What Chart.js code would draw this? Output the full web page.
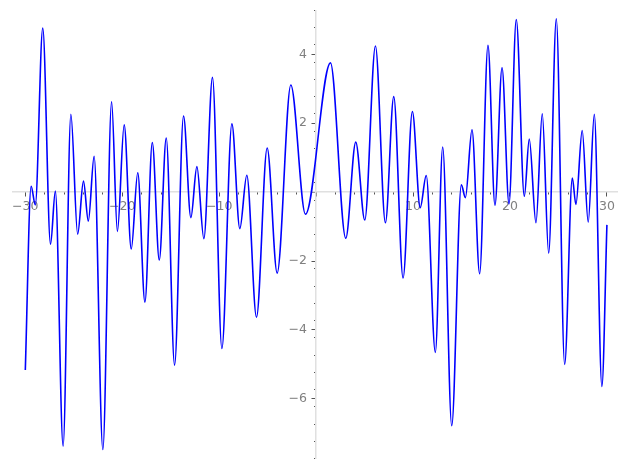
<!DOCTYPE html>
<html>

<head>
    <title>Wiggly function</title>
    <script src="https://cdn.jsdelivr.net/npm/chart.js@4.4.1/dist/chart.umd.min.js"></script>
    <style>
        body { margin: 0; background: #fff; }
    </style>
</head>

<body>
    <canvas id="myChart" width="627" height="469"></canvas>

    <script>
        // turning points (x, y)
        var xs = [-30.0, -29.4, -28.97, -28.2, -27.4, -26.9, -26.1, -25.3, -24.6, -24.0, -23.5, -22.9, -22.0, -21.1,
            -20.5, -19.8, -19.07, -18.4, -17.66, -16.9, -16.18, -15.46, -14.6, -13.68, -12.92, -12.3, -11.58, -10.69,
            -9.72, -8.69, -7.87, -7.15, -6.15, -5.05, -4.02, -2.61, -1.1, 1.48, 3.06, 4.09, 5.02, 6.12, 7.15, 8.01,
            8.97, 9.93, 10.74, 11.36, 12.3, 13.06, 13.99, 14.98, 15.4, 16.08, 16.87, 17.73, 18.45, 19.18, 19.9, 20.65,
            21.48, 21.99, 22.68, 23.33, 23.99, 24.78, 25.64, 26.43, 26.8, 27.45, 28.07, 28.7, 29.48, 30.0];
        var ys = [-5.16, 0.17, -0.37, 4.76, -1.51, 0.03, -7.37, 2.26, -1.22, 0.32, -0.84, 1.04, -7.47, 2.62,
            -1.14, 1.95, -1.65, 0.56, -3.19, 1.44, -1.97, 1.57, -5.02, 2.21, -0.74, 0.74, -1.35, 3.33,
            -4.54, 1.98, -1.06, 0.49, -3.63, 1.28, -2.35, 3.11, -0.64, 3.75, -1.34, 1.45, -0.81, 4.24, -0.89, 2.77,
            -2.49, 2.34, -0.45, 0.48, -4.65, 1.31, -6.78, 0.21, -0.16, 1.81, -2.37, 4.26, -0.38, 3.61, -0.34, 5.01,
            -0.12, 1.54, -0.89, 2.27, -1.77, 5.03, -5.0, 0.41, -0.36, 1.79, -0.87, 2.26, -5.64, -0.95];

        var xMajorStep = 10, xMinorStep = 2;
        var yMajorStep = 2, yMinorStep = 0.5;

        var points = xs.map(function (x, i) { return { x: x, y: ys[i] }; });

        var tickFont = { family: 'DejaVu Sans', size: 12.5 };
        var tickGray = '#808080';
        var markGray = '#555';
        var axisGray = '#e0e0e0';

        function fmt(v) {
            if (v === 0) return '';
            return (v < 0 ? '\u2212' : '') + Math.abs(v);
        }
        function blank() { return ''; }

        // axes drawn through the origin take no room of their own
        function noWidth(s) { s.width = 0; }
        function noHeight(s) { s.height = 0; }

        var xRange = { min: -31.27, max: 31.04 };
        var yRange = { min: -7.73, max: 5.27 };

        var ctx = document.getElementById('myChart');

        new Chart(ctx, {
            type: 'line',
            data: {
                datasets: [{
                    data: points,
                    borderColor: '#0000ff',
                    borderWidth: 1.6,
                    pointRadius: 0,
                    fill: false,
                    cubicInterpolationMode: 'monotone'
                }]
            },
            options: {
                responsive: false,
                animation: false,
                layout: { padding: { left: 13, right: 10, top: 8, bottom: 10 } },
                plugins: { legend: { display: false }, tooltip: { enabled: false } },
                scales: {
                    x: {
                        type: 'linear', min: xRange.min, max: xRange.max,
                        position: { y: 0 },
                        afterFit: noHeight,
                        border: { display: true, color: axisGray, width: 1.5 },
                        grid: { drawOnChartArea: false, tickLength: 4, tickColor: markGray, tickWidth: 1 },
                        ticks: {
                            stepSize: xMajorStep, includeBounds: false, maxRotation: 0, autoSkip: false,
                            color: tickGray, font: tickFont, padding: 3, callback: fmt
                        }
                    },
                    x2: {
                        type: 'linear', axis: 'x', min: xRange.min, max: xRange.max,
                        position: { y: 0 },
                        afterFit: noHeight,
                        border: { display: false },
                        grid: { drawOnChartArea: false, tickLength: 2.5, tickColor: markGray, tickWidth: 1 },
                        ticks: { stepSize: xMinorStep, includeBounds: false, autoSkip: false, callback: blank }
                    },
                    y: {
                        type: 'linear', min: yRange.min, max: yRange.max,
                        position: { x: 0 },
                        afterFit: noWidth,
                        border: { display: true, color: axisGray, width: 1.5 },
                        grid: { drawOnChartArea: false, tickLength: 3.5, tickColor: markGray, tickWidth: 1 },
                        ticks: { stepSize: yMajorStep, includeBounds: false, autoSkip: false, callback: blank }
                    },
                    y2: {
                        type: 'linear', axis: 'y', min: yRange.min, max: yRange.max,
                        position: { x: 0 },
                        afterFit: noWidth,
                        border: { display: false },
                        grid: { drawOnChartArea: false, tickLength: 2, tickColor: markGray, tickWidth: 1 },
                        ticks: { stepSize: yMinorStep, includeBounds: false, autoSkip: false, callback: blank }
                    },
                    // y labels sit a little left of the axis line
                    yLabels: {
                        type: 'linear', axis: 'y', min: yRange.min, max: yRange.max,
                        position: { x: -0.95 },
                        afterFit: noWidth,
                        border: { display: false },
                        grid: { display: false },
                        ticks: {
                            stepSize: yMajorStep, includeBounds: false, autoSkip: false,
                            color: tickGray, font: tickFont, callback: fmt
                        }
                    }
                }
            }
        });
    </script>
</body>

</html>
